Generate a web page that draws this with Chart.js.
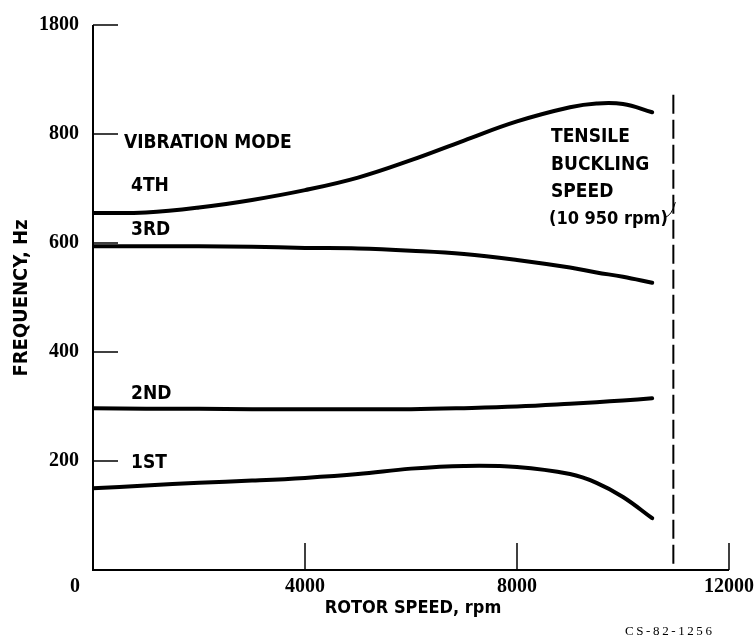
<html><head>
<meta charset="UTF-8">
<title>Vibration modes vs rotor speed</title>
<style>
  body { margin: 0; padding: 0; background: white; }
  .wrap { width: 756px; height: 639px; position: relative; }
</style>
<script src="https://cdn.jsdelivr.net/npm/chart.js"></script>
</head>
<body>
  <div class="wrap"><canvas id="modes"></canvas></div>

  <script>
    // values
    var rpm   = [0, 1000, 2000, 3000, 4000, 5000, 6000, 7000, 8000, 9000, 9500, 10000, 10550];
    var mode1 = [150, 155, 160, 164, 169, 176, 186, 191, 189, 176, 160, 134, 95];
    var mode2 = [297, 296, 296, 295, 295, 295, 295, 297, 300, 305, 308, 311, 315];
    var mode3 = [594, 594, 594, 593, 591, 590, 586, 580, 569, 555, 546, 538, 527];
    var mode4 = [655, 656, 665, 679, 697, 720, 752, 788, 823, 849, 856, 855, 840];
    var bucklingSpeed = 10950;

    var xTicks = [0, 4000, 8000, 12000];
    var xTickLabels = ['0', '4000', '8000', '12000'];
    var yTicks = [200, 400, 600, 800, 1000];
    var yTickLabels = ['200', '400', '600', '800', '1800'];

    var modeNames = ['1ST', '2ND', '3RD', '4TH'];
    var modeLabelY = [196, 322, 624, 704];   // where the name sits, in Hz

    var FONT = "'DejaVu Sans Condensed', 'Liberation Sans Narrow', sans-serif";
    var NUMFONT = "'Liberation Serif', 'DejaVu Serif', serif";

    function pts(ys) {
      return rpm.map(function (r, i) { return { x: r, y: ys[i] }; });
    }

    function lineSet(label, ys) {
      return {
        label: label,
        data: pts(ys),
        borderColor: '#000',
        borderWidth: 4,
        borderCapStyle: 'round',
        pointRadius: 0,
        tension: 0.4,
        fill: false
      };
    }

    // axes, ticks and all the lettering drawn over the chart area
    var figurePlugin = {
      id: 'figure',
      afterDraw: function (chart) {
        var ctx = chart.ctx;
        var xs = chart.scales.x, ys = chart.scales.y;
        var x0 = xs.getPixelForValue(0), y0 = ys.getPixelForValue(0);
        var xEnd = xs.getPixelForValue(12000), yTop = ys.getPixelForValue(1000);

        ctx.save();
        ctx.strokeStyle = '#000';
        ctx.fillStyle = '#000';
        ctx.lineWidth = 2;

        // axis lines
        ctx.beginPath();
        ctx.moveTo(x0, yTop);
        ctx.lineTo(x0, y0);
        ctx.lineTo(xEnd, y0);
        ctx.stroke();

        // inward tick marks
        ctx.lineWidth = 1.5;
        yTicks.forEach(function (v) {
          var p = ys.getPixelForValue(v);
          ctx.beginPath(); ctx.moveTo(x0, p); ctx.lineTo(x0 + 25, p); ctx.stroke();
        });
        xTicks.forEach(function (v) {
          if (v === 0) return;
          var p = xs.getPixelForValue(v);
          ctx.beginPath(); ctx.moveTo(p, y0); ctx.lineTo(p, y0 - 27); ctx.stroke();
        });

        // tick labels
        ctx.font = 'bold 20px ' + NUMFONT;
        ctx.textBaseline = 'middle';
        ctx.textAlign = 'right';
        yTicks.forEach(function (v, i) {
          ctx.fillText(yTickLabels[i], x0 - 14, ys.getPixelForValue(v));
        });
        ctx.textAlign = 'center';
        xTicks.forEach(function (v, i) {
          var p = xs.getPixelForValue(v);
          if (v === 0) p = x0 - 18;
          ctx.fillText(xTickLabels[i], p, y0 + 17);
        });

        // buckling speed line
        var xb = xs.getPixelForValue(bucklingSpeed);
        ctx.lineWidth = 2;
        ctx.setLineDash([19, 6]);
        ctx.beginPath();
        ctx.moveTo(xb, ys.getPixelForValue(872));
        ctx.lineTo(xb, y0);
        ctx.stroke();
        ctx.setLineDash([]);

        // axis titles
        ctx.font = 'bold 18px ' + FONT;
        ctx.textAlign = 'center';
        ctx.fillText('ROTOR SPEED, rpm', 413, y0 + 38);
        ctx.save();
        ctx.translate(22, 298);
        ctx.rotate(-Math.PI / 2);
        ctx.font = 'bold 20px ' + FONT;
        ctx.fillText('FREQUENCY, Hz', 0, 0);
        ctx.restore();

        // mode names
        ctx.font = 'bold 19px ' + FONT;
        ctx.textAlign = 'left';
        ctx.fillText('VIBRATION MODE', 124, ys.getPixelForValue(783));
        modeNames.forEach(function (n, i) {
          ctx.fillText(n, 131, ys.getPixelForValue(modeLabelY[i]));
        });

        // buckling note
        var nx = 551;
        ctx.fillText('TENSILE', nx, ys.getPixelForValue(794));
        ctx.fillText('BUCKLING', nx, ys.getPixelForValue(743));
        ctx.fillText('SPEED', nx, ys.getPixelForValue(694));
        ctx.font = 'bold 18px ' + FONT;
        ctx.fillText('(10 950 rpm)', nx - 2, ys.getPixelForValue(644));
        ctx.lineWidth = 1;
        ctx.beginPath();
        ctx.moveTo(664, ys.getPixelForValue(646));
        ctx.quadraticCurveTo(672, ys.getPixelForValue(650), xb + 2, ys.getPixelForValue(675));
        ctx.stroke();

        // figure number
        ctx.font = "13px 'Liberation Serif', serif";
        ctx.letterSpacing = '2.6px';
        ctx.fillText('CS-82-1256', 625, 632);

        ctx.restore();
      }
    };

    var chart = new Chart(document.getElementById('modes').getContext('2d'), {
      type: 'line',
      data: {
        datasets: [
          lineSet('1ST', mode1),
          lineSet('2ND', mode2),
          lineSet('3RD', mode3),
          lineSet('4TH', mode4)
        ]
      },
      options: {
        responsive: true,
        maintainAspectRatio: false,
        animation: false,
        layout: { padding: { left: 93, right: 27, top: 25, bottom: 69 } },
        plugins: { legend: { display: false }, tooltip: { enabled: false } },
        scales: {
          x: { type: 'linear', min: 0, max: 12000, display: false },
          y: { type: 'linear', min: 0, max: 1000, display: false }
        }
      },
      plugins: [figurePlugin]
    });
  </script>
</body>
</html>
